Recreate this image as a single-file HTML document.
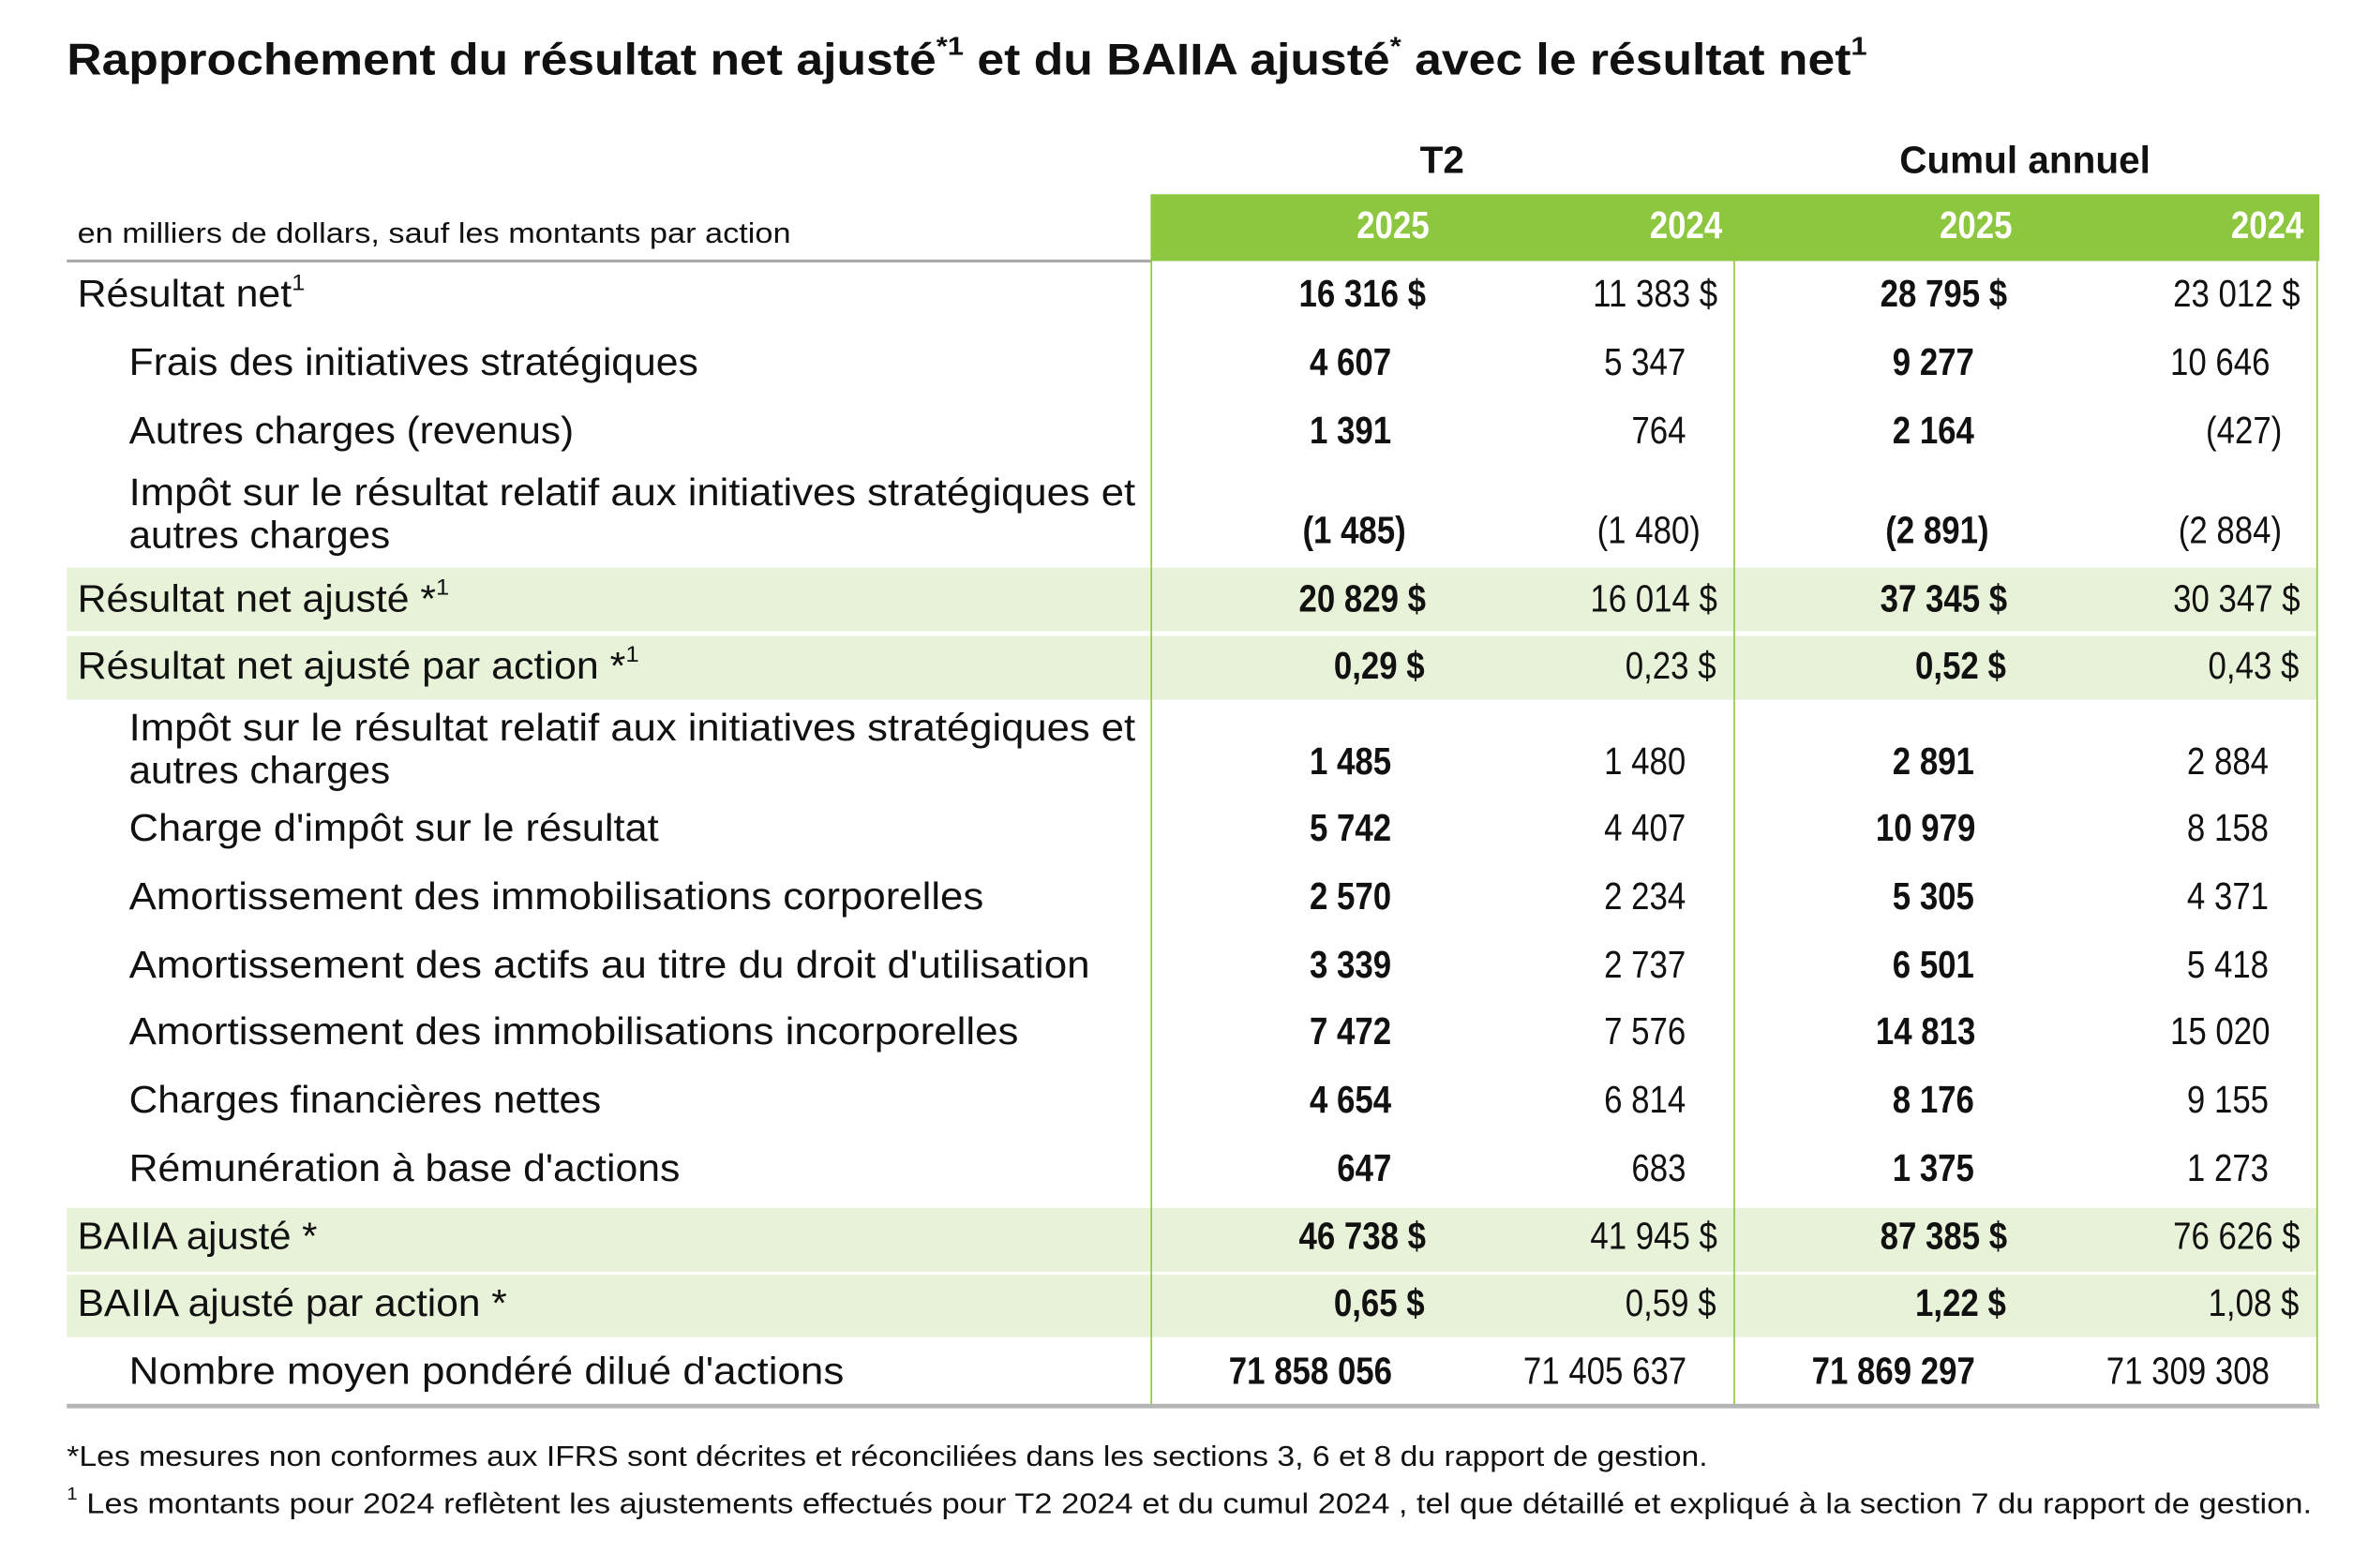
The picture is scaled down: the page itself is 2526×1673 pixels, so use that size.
<!DOCTYPE html>
<html><head><meta charset="utf-8">
<style>
html,body{margin:0;padding:0;background:#fff;width:2526px;height:1672px;overflow:hidden}
#page{position:absolute;left:0;top:0;width:1560px;height:1033px;transform:scale(1.61923);transform-origin:0 0;font-family:"Liberation Sans",sans-serif;color:#111}
.t{position:absolute;white-space:nowrap;line-height:1}
.l{transform-origin:0 50%}
.r{transform-origin:100% 50%}
.b{font-weight:bold}
.band{position:absolute;left:44px;width:1482px;background:#e7f2d8}
.vl{position:absolute;top:172px;height:754px;width:1.5px;background:#8dc63f}
sup{font-size:60%;vertical-align:0;position:relative;top:-0.75em}
</style></head>
<body>
<div id="page">
<div class="t l b" style="left:44px;top:26px;font-size:29px" data-w="1186">Rapprochement du résultat net ajusté<sup>*1</sup> et du BAIIA ajusté<sup>*</sup> avec le résultat net<sup>1</sup></div>
<div class="t b" style="left:900px;width:100px;text-align:center;top:94px;font-size:25px">T2</div>
<div class="t b" style="left:1234px;width:200px;text-align:center;top:94px;font-size:25px">Cumul annuel</div>
<div style="position:absolute;left:758px;top:128px;width:770px;height:44px;background:#8dc63f"></div>
<div class="t l" style="left:51px;top:145px;font-size:19px" data-w="470">en milliers de dollars, sauf les montants par action</div>
<div style="position:absolute;left:44px;top:171px;width:714px;height:2px;background:#aaa"></div>
<div class="band" style="top:374px;height:42px"></div>
<div class="band" style="top:419px;height:42px"></div>
<div class="band" style="top:796px;height:42px"></div>
<div class="band" style="top:840px;height:41px"></div>
<div class="vl" style="left:757.5px"></div>
<div class="vl" style="left:1141.5px"></div>
<div class="vl" style="left:1525.5px"></div>
<div style="position:absolute;left:44px;top:925px;width:1484px;height:3px;background:#b5b5b5"></div>
<div class="t l" style="left:44px;top:951px;font-size:19px" data-w="1081">*Les mesures non conformes aux IFRS sont décrites et réconciliées dans les sections 3, 6 et 8 du rapport de gestion.</div>
<div class="t l" style="left:44px;top:982px;font-size:19px" data-w="1479"><sup>1</sup> Les montants pour 2024 reflètent les ajustements effectués pour T2 2024 et du cumul 2024 , tel que détaillé et expliqué à la section 7 du rapport de gestion.</div>
</div>
<script>
const years = ['2025','2024','2025','2024'];
const yearRight = [942,1135,1326,1518];
// label, indent, centerY, second line, valueY, values, suffix kind
const labels = ["Résultat net<sup>1</sup>","Frais des initiatives stratégiques","Autres charges (revenus)","Impôt sur le résultat relatif aux initiatives stratégiques et","Résultat net ajusté *<sup>1</sup>","Résultat net ajusté par action *<sup>1</sup>","Impôt sur le résultat relatif aux initiatives stratégiques et","Charge d'impôt sur le résultat","Amortissement des immobilisations corporelles","Amortissement des actifs au titre du droit d'utilisation","Amortissement des immobilisations incorporelles","Charges financières nettes","Rémunération à base d'actions","BAIIA ajusté *","BAIIA ajusté par action *","Nombre moyen pondéré dilué d'actions"];
const labelW = [150,375,293,663,245,370,663,349,563,633,586,311,363,158,283,471];
const indent = [0,1,1,1,0,0,1,1,1,1,1,1,1,0,0,1];
const rowY = [196,241,286,327,397,441,482,548,593,638,682,727,772,817,861,906];
const valY = [196,241,286,352,397,441,504,548,593,638,682,727,772,817,861,906];
const secondLine = {3:"autres charges",6:"autres charges"};
const q2025 = ["16 316","4 607","1 391","(1 485)","20 829","0,29","1 485","5 742","2 570","3 339","7 472","4 654","647","46 738","0,65","71 858 056"];
const q2024 = ["11 383","5 347","764","(1 480)","16 014","0,23","1 480","4 407","2 234","2 737","7 576","6 814","683","41 945","0,59","71 405 637"];
const y2025 = ["28 795","9 277","2 164","(2 891)","37 345","0,52","2 891","10 979","5 305","6 501","14 813","8 176","1 375","87 385","1,22","71 869 297"];
const y2024 = ["23 012","10 646","(427)","(2 884)","30 347","0,43","2 884","8 158","4 371","5 418","15 020","9 155","1 273","76 626","1,08","71 309 308"];
const dollarRows = [0,4,5,13,14];
const colPlainRight = [917,1111,1301,1495];
const colDollarRight = [939,1131,1322,1515];
const colParenRight = [926,1120,1310,1503];
const SX = 0.86;
const page = document.getElementById('page');
function mk(html, cls, left, cy, size){
  const d = document.createElement('div');
  d.className = 't ' + cls;
  d.innerHTML = html;
  d.style.fontSize = size + 'px';
  d.style.top = (cy - size*0.55) + 'px';
  page.appendChild(d);
  return d;
}
years.forEach((yr,i)=>{
  const d = mk(yr,'r b',0,151,25);
  
  
  d.style.color = '#fff';
  d.style.right = (1560 - yearRight[i]) + 'px';
  d.style.transform = 'scaleX(' + SX + ')';
});
labels.forEach((lab,i)=>{
  const x = indent[i] ? 85 : 51;
  const d = mk(lab,'l',x,rowY[i],25);
  
  
  d.style.left = x + 'px';
  d.dataset.w = labelW[i];
  if (secondLine[i]) {
    const e = mk(secondLine[i],'l',x,rowY[i]+28,25);
    
    
    e.style.left = x + 'px';
    e.dataset.w = 172;
  }
  const cols = [q2025[i], q2024[i], y2025[i], y2024[i]];
  cols.forEach((v,c)=>{
    let right = colPlainRight[c], txt = v;
    if (dollarRows.includes(i)) { right = colDollarRight[c]; txt = v + ' $'; }
    else if (v.startsWith('(')) { right = colParenRight[c]; }
    const n = mk(txt, 'r' + (c % 2 === 0 ? ' b' : ''), 0, valY[i], 25);
    
    
    n.style.right = (1560 - right) + 'px';
    n.style.transform = 'scaleX(' + SX + ')';
  });
});
document.querySelectorAll('[data-w]').forEach(el=>{
  const w = el.getBoundingClientRect().width / 1.61923;
  const target = parseFloat(el.dataset.w);
  if (w > 0) el.style.transform = 'scaleX(' + (target / w) + ')';
});
</script>
</body></html>
